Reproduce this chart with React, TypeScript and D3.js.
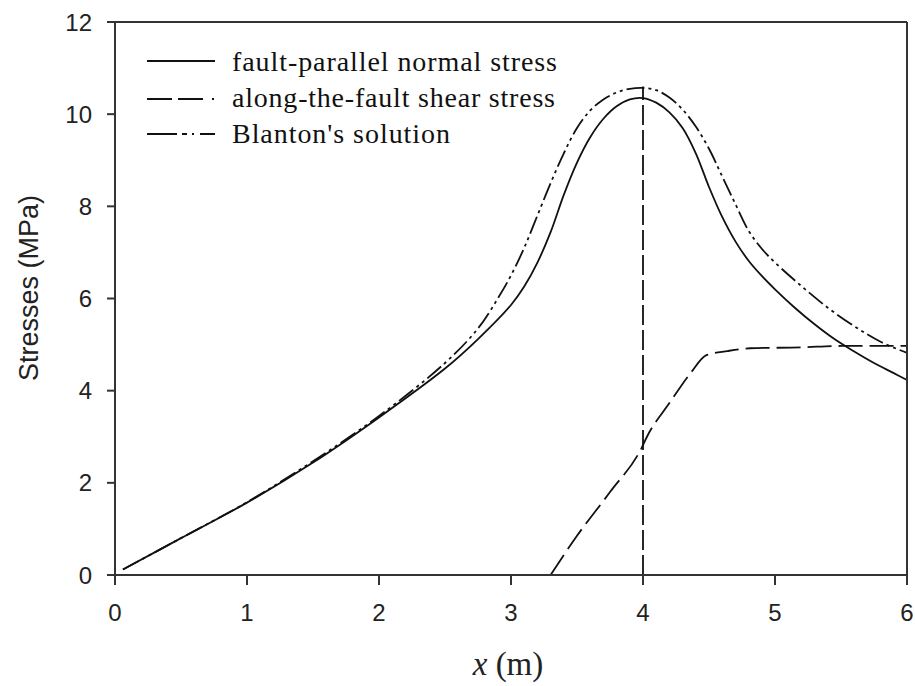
import React from "react";
import * as d3 from "d3";

// Fault-parallel normal stress along the fault (x in m, stress in MPa)
const normalX = [0.06, 0.5, 1.0, 1.5, 2.0, 2.5, 2.75, 3.0, 3.1, 3.2, 3.3, 3.4, 3.5, 3.6, 3.7, 3.8, 3.9, 4.0, 4.1, 4.2, 4.3, 4.4, 4.5, 4.6, 4.7, 4.8, 4.9, 5.0, 5.15, 5.3, 5.45, 5.6, 5.75, 5.9, 6.0];
const normalY = [0.12, 0.8, 1.57, 2.44, 3.42, 4.48, 5.12, 5.86, 6.26, 6.78, 7.44, 8.25, 8.95, 9.5, 9.9, 10.17, 10.32, 10.35, 10.25, 10.04, 9.7, 9.15, 8.42, 7.77, 7.24, 6.82, 6.49, 6.2, 5.8, 5.44, 5.12, 4.85, 4.6, 4.38, 4.23];

// Along-the-fault shear stress
const shearX = [3.3, 3.5, 3.75, 3.99, 4.03, 4.2, 4.36, 4.48, 4.64, 4.81, 5.2, 5.5, 6.0];
const shearY = [0.0, 0.85, 1.8, 2.76, 3.0, 3.73, 4.38, 4.77, 4.86, 4.92, 4.94, 4.97, 4.97];

// Blanton's analytical solution
const blantonX = [0.06, 0.5, 1.0, 1.5, 2.0, 2.5, 2.75, 2.9, 3.0, 3.1, 3.2, 3.3, 3.4, 3.5, 3.6, 3.7, 3.8, 3.9, 4.0, 4.1, 4.2, 4.3, 4.4, 4.5, 4.6, 4.7, 4.8, 4.9, 5.0, 5.2, 5.4, 5.6, 5.8, 6.0];
const blantonY = [0.12, 0.8, 1.58, 2.47, 3.45, 4.6, 5.35, 6.0, 6.5, 7.1, 7.8, 8.5, 9.15, 9.7, 10.08, 10.32, 10.47, 10.55, 10.57, 10.52, 10.36, 10.1, 9.73, 9.25, 8.65, 8.05, 7.47, 7.08, 6.78, 6.27, 5.8, 5.4, 5.06, 4.82];

// Vertical marker at the peak location
const markerX = 4;
const markerTop = 10.6;

const xTicks = [0, 1, 2, 3, 4, 5, 6];
const yTicks = [0, 2, 4, 6, 8, 10, 12];

const legendLabels = ["fault-parallel normal stress", "along-the-fault shear stress", "Blanton's solution"];

const W = 915;
const H = 686;
const left = 115;
const right = 907;
const top = 22;
const bottom = 575;

const ink = "#222";
const dashShear = "24,7";
const dashBlanton = "18,4,3,4,3,4";

export default function App() {
  const x = d3.scaleLinear().domain([0, 6]).range([left, right]);
  const y = d3.scaleLinear().domain([0, 12]).range([bottom, top]);

  const smooth = d3
    .line<[number, number]>()
    .x((d) => x(d[0]))
    .y((d) => y(d[1]))
    .curve(d3.curveCatmullRom.alpha(0.5));

  const mono = d3
    .line<[number, number]>()
    .x((d) => x(d[0]))
    .y((d) => y(d[1]))
    .curve(d3.curveMonotoneX);

  const zip = (xs: number[], ys: number[]) => xs.map((v, i) => [v, ys[i]] as [number, number]);

  const normalPath = smooth(zip(normalX, normalY)) || "";
  const shearPath = mono(zip(shearX, shearY)) || "";
  const blantonPath = smooth(zip(blantonX, blantonY)) || "";

  const legendRows = [
    { label: legendLabels[0], dash: undefined as string | undefined, lineY: 61, textY: 71, len: 325 },
    { label: legendLabels[1], dash: "25,6,25,9,2,3", lineY: 99, textY: 107, len: 323 },
    { label: legendLabels[2], dash: "30,5,5,5,2,6,20", lineY: 134, textY: 143, len: 218 },
  ];

  return (
    <svg
      width={W}
      height={H}
      viewBox={`0 0 ${W} ${H}`}
      style={{ position: "absolute", left: 0, top: 0, background: "#fff" }}
    >
      <rect x={0} y={0} width={W} height={H} fill="#fff" />

      {/* curves */}
      <g fill="none" stroke="#111" strokeWidth={1.8}>
        <path d={normalPath} />
        <path d={shearPath} strokeDasharray={dashShear} />
        <path d={blantonPath} strokeDasharray={dashBlanton} />
        <line
          x1={x(markerX)}
          x2={x(markerX)}
          y1={y(0)}
          y2={y(markerTop)}
          strokeDasharray="20,5"
        />
      </g>

      {/* frame */}
      <g stroke="#333" strokeWidth={2} fill="none">
        <line x1={left} x2={left} y1={top} y2={bottom + 2} />
        <line x1={left - 8} x2={right} y1={bottom} y2={bottom} />
        <line x1={left - 8} x2={right} y1={top} y2={top} />
        <line x1={right} x2={right} y1={top} y2={bottom} />
      </g>

      {/* y axis ticks and labels */}
      <g>
        {yTicks.map((t) => (
          <g key={`y${t}`}>
            <line x1={left - 8} x2={left} y1={y(t)} y2={y(t)} stroke="#333" strokeWidth={2} />
            <text
              x={92}
              y={y(t)}
              dy="0.36em"
              textAnchor="end"
              fontFamily="'Liberation Sans', Arial, sans-serif"
              fontSize={24}
              fill={ink}
            >
              {t}
            </text>
          </g>
        ))}
      </g>

      {/* x axis ticks and labels */}
      <g>
        {xTicks.map((t) => (
          <g key={`x${t}`}>
            <line x1={x(t)} x2={x(t)} y1={bottom} y2={bottom + 10} stroke="#333" strokeWidth={2} />
            <text
              x={x(t)}
              y={621}
              textAnchor="middle"
              fontFamily="'Liberation Sans', Arial, sans-serif"
              fontSize={24}
              fill={ink}
            >
              {t}
            </text>
          </g>
        ))}
      </g>

      {/* axis titles */}
      <text
        transform={`translate(38, 288) rotate(-90)`}
        textAnchor="middle"
        fontFamily="'Liberation Sans', Arial, sans-serif"
        fontSize={27}
        fill={ink}
      >
        Stresses (MPa)
      </text>
      <text
        x={508}
        y={675}
        textAnchor="middle"
        fontFamily="'Liberation Serif', 'Times New Roman', serif"
        fontSize={33}
        fill={ink}
      >
        <tspan fontStyle="italic">x</tspan> (m)
      </text>

      {/* legend */}
      <g>
        {legendRows.map((r) => (
          <g key={r.label}>
            <line
              x1={147}
              x2={215}
              y1={r.lineY}
              y2={r.lineY}
              stroke="#111"
              strokeWidth={2}
              strokeDasharray={r.dash}
            />
            <text
              x={232}
              y={r.textY}
              fontFamily="'Liberation Serif', 'Times New Roman', serif"
              fontSize={28}
              fill="#111"
              textLength={r.len}
              lengthAdjust="spacing"
            >
              {r.label}
            </text>
          </g>
        ))}
      </g>
    </svg>
  );
}
